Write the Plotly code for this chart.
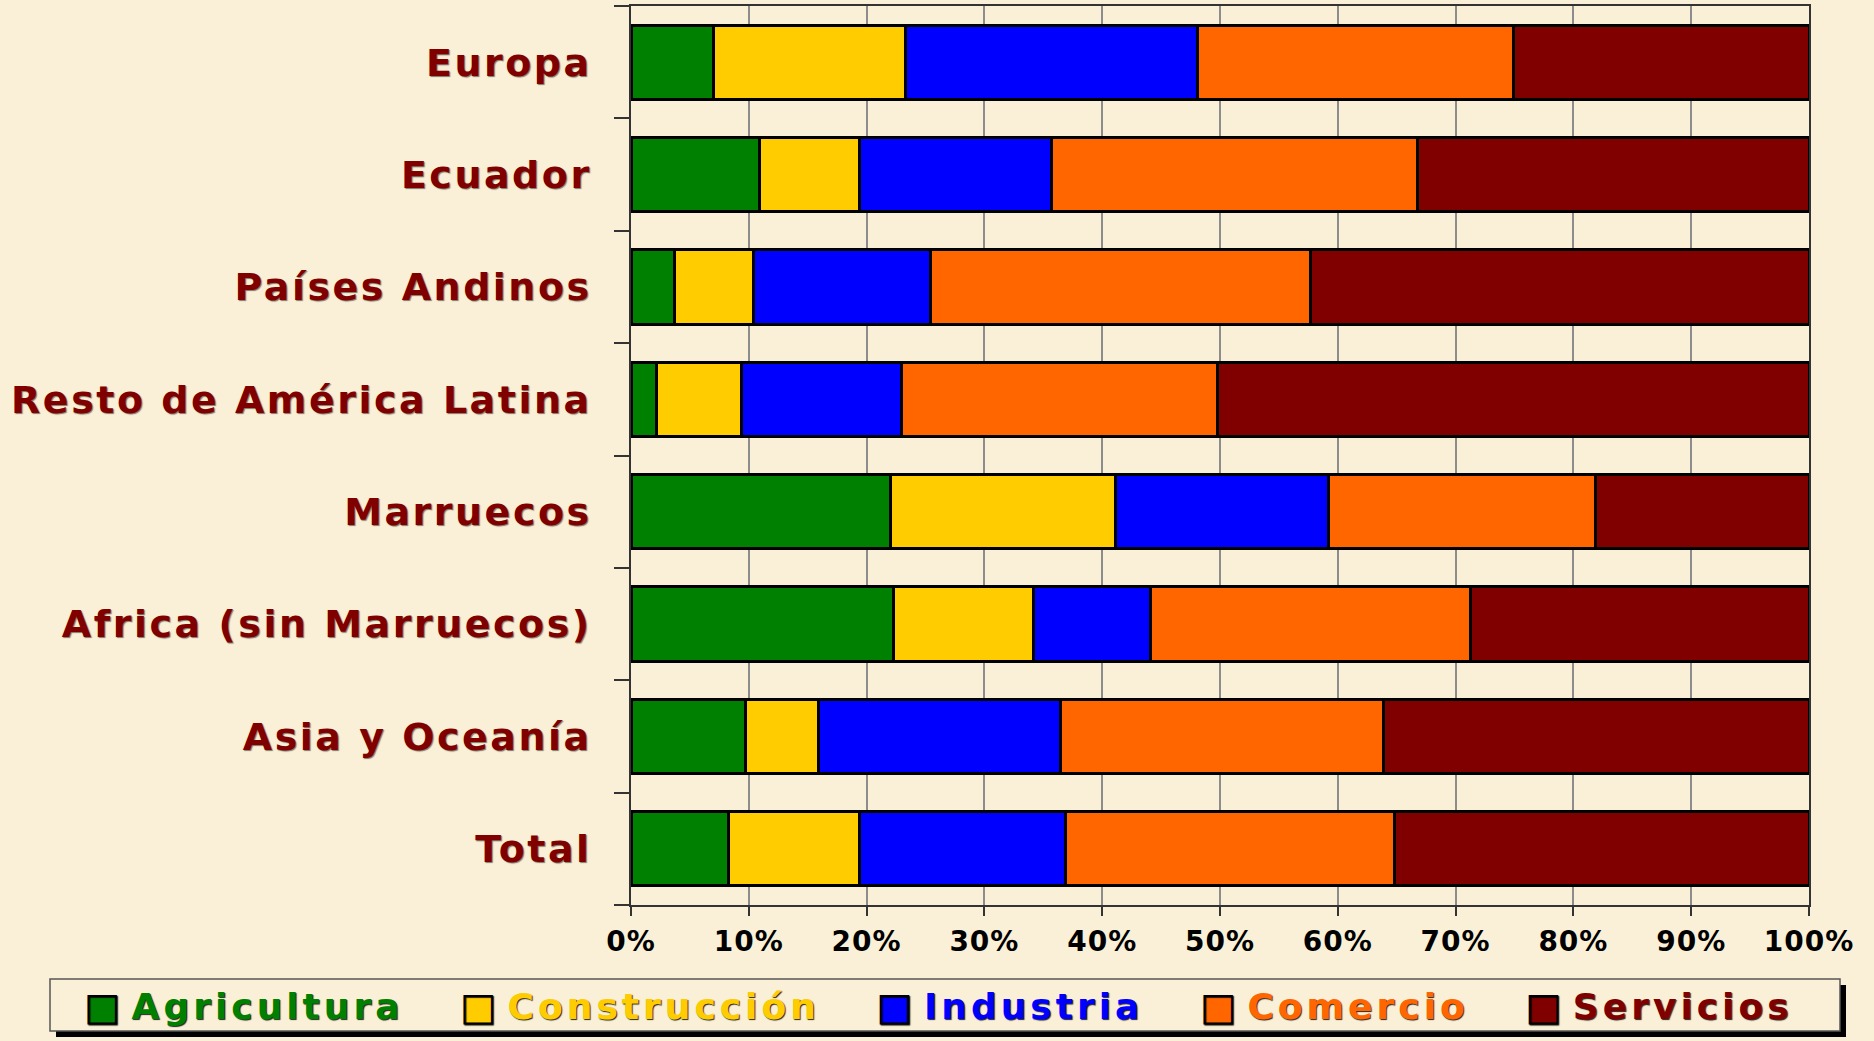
import plotly.graph_objects as go

# ---------------- data ----------------
regions = ["Europa", "Ecuador", "Países Andinos", "Resto de América Latina",
           "Marruecos", "Africa (sin Marruecos)", "Asia y Oceanía", "Total"]
sectors = ["Agricultura", "Construcción", "Industria", "Comercio", "Servicios"]

agricultura = [7.0, 10.9, 3.7, 2.2, 22.0, 22.3, 9.7, 8.3]
construccion = [16.3, 8.5, 6.7, 7.2, 19.1, 11.9, 6.2, 11.1]
industria = [24.8, 16.3, 15.0, 13.6, 18.1, 9.9, 20.6, 17.5]
comercio = [26.8, 31.1, 32.3, 26.8, 22.7, 27.2, 27.4, 27.9]
servicios = [25.1, 33.2, 42.3, 50.2, 18.1, 28.7, 36.1, 35.2]

x_tick_values = [0, 10, 20, 30, 40, 50, 60, 70, 80, 90, 100]
x_tick_labels = ["0%", "10%", "20%", "30%", "40%", "50%", "60%", "70%", "80%", "90%", "100%"]

# ---------------- style ----------------
series = [agricultura, construccion, industria, comercio, servicios]
colors = ["#008000", "#FFCC00", "#0000FF", "#FF6600", "#800000"]
BG = "#FAF0D7"
FONT = "DejaVu Sans"
NBSP = "&nbsp;"

W, H = 1874, 1041
L, R, T, B = 631, 65, 6, 136
PW, PH = W - L - R, H - T - B


def px_x(p):
    return (p - L) / PW


def px_y(p):
    return (H - B - p) / PH


def spaced(text, spacing, color=None):
    style = f"letter-spacing:{spacing}px"
    if color:
        style = f"color:{color};" + style
    return f"<span style='{style}'>{text}</span>"


def swatch(color):
    # square legend key with a black outline
    return f"<span style='color:{color};stroke:black;stroke-width:2px'>■</span>"


fig = go.Figure()

for name, vals, col in zip(sectors, series, colors):
    fig.add_trace(go.Bar(
        y=regions, x=vals, orientation="h", name=name,
        marker=dict(color=col, line=dict(color="black", width=3)),
        showlegend=False,
    ))

# legend entries: key square drawn as a glyph, coloured label
for i, (name, col) in enumerate(zip(sectors, colors)):
    pad = NBSP if i < len(sectors) - 1 else ""
    fig.add_trace(go.Scatter(
        x=[None], y=[None], mode="markers",
        name=swatch(col) + " " + spaced(name, 4, col) + pad,
        marker=dict(symbol="square", size=2, color="rgba(0,0,0,0)",
                    line=dict(width=0)),
        showlegend=True,
    ))

fig.update_layout(
    width=W, height=H,
    margin=dict(l=L, r=R, t=T, b=B, pad=0, autoexpand=False),
    paper_bgcolor=BG, plot_bgcolor=BG,
    barmode="stack", barnorm="percent", bargap=0.34,
    showlegend=True,
    legend=dict(
        orientation="h", traceorder="normal",
        x=px_x(45), xanchor="left",
        y=px_y(1005), yanchor="middle",
        bgcolor="rgba(0,0,0,0)", borderwidth=0,
        font=dict(family=FONT, size=36, weight="bold",
                  shadow="1px 1px 1px rgba(0,0,0,0.85)"),
    ),
    shapes=[
        dict(type="rect", xref="paper", yref="paper",
             x0=px_x(56), x1=px_x(1846), y0=px_y(985), y1=px_y(1037),
             fillcolor="black", line=dict(width=0), layer="below"),
        dict(type="rect", xref="paper", yref="paper",
             x0=px_x(50), x1=px_x(1840), y0=px_y(979), y1=px_y(1031),
             fillcolor=BG, line=dict(color="#555555", width=1.5), layer="below"),
    ],
)

fig.update_xaxes(
    range=[0, 100], tickmode="array", tickvals=x_tick_values,
    ticktext=[spaced(t, 1) for t in x_tick_labels],
    showgrid=True, gridcolor="#8C8C8C", gridwidth=1.5, zeroline=False,
    showline=True, linecolor="#333333", linewidth=1.5, mirror=True,
    ticks="outside", ticklen=9, tickcolor="#333333", tickwidth=1.5,
    tickfont=dict(family=FONT, size=28, color="black", weight="bold"),
    ticklabelstandoff=2,
)
fig.update_yaxes(
    categoryorder="array", categoryarray=regions, autorange="reversed",
    tickmode="array", tickvals=regions, ticktext=[spaced(r, 2.5) for r in regions],
    showgrid=False, showline=True, linecolor="#333333", linewidth=1.5, mirror=True,
    ticks="outside", tickson="boundaries", ticklen=15, tickcolor="#333333", tickwidth=1.5,
    tickfont=dict(family=FONT, size=38, color="#800000", weight="bold",
                  shadow="1px 1px 1px rgba(0,0,0,0.5)"),
    ticklabelstandoff=30,
)

fig.write_html("out.html",
               config={"displayModeBar": False},
               post_script="document.body.style.margin='0';document.body.style.overflow='hidden';")
